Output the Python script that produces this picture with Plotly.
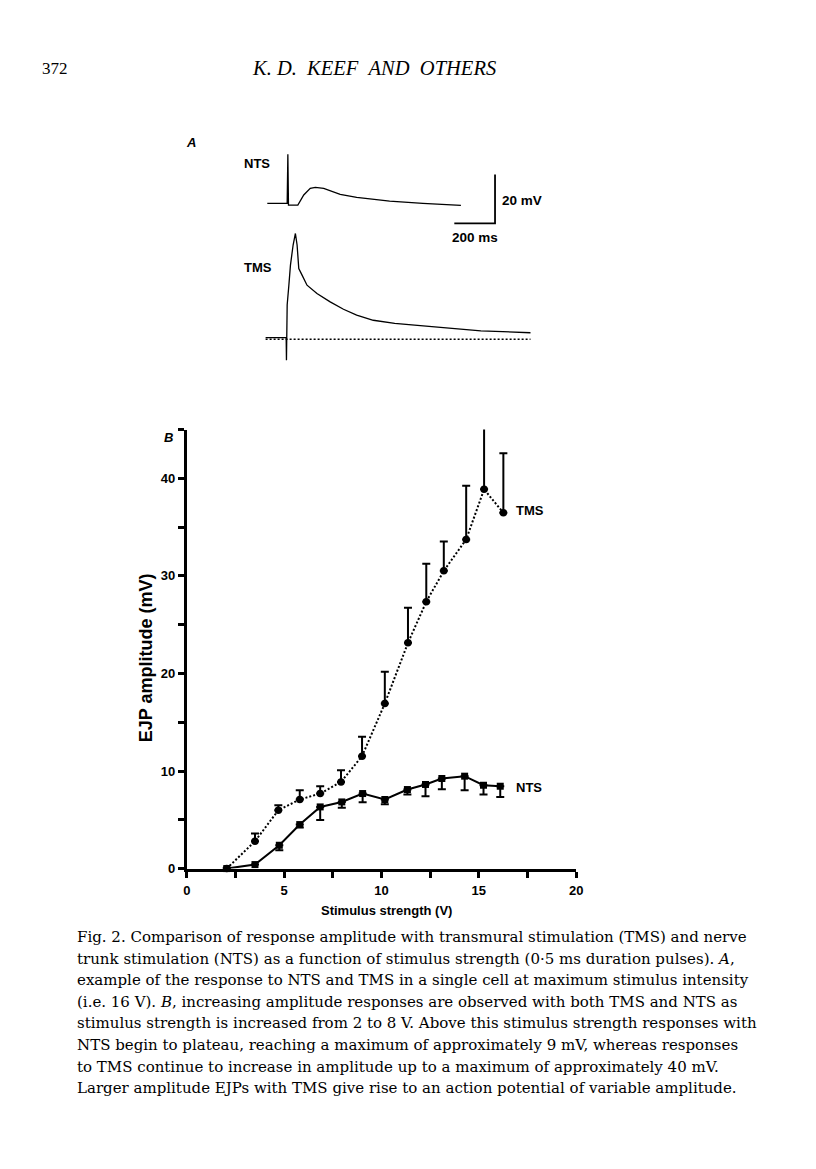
import plotly.graph_objects as go

# The page body keeps the browser's default 8 px margin, so the figure is made
# 16 px smaller than the window and every page position is shifted by 8 px.
# S compensates a small shrink seen in the captured picture.
PAGE_W, PAGE_H = 816, 1169
OFF = 8
S = 1.007
W, H = PAGE_W - 2 * OFF, PAGE_H - 2 * OFF


def px(x):
    return (x * S - OFF) / W


def py(y):
    return 1 - (y * S - OFF) / H


# ---------------- Panel B data (stimulus strength V, EJP amplitude mV) ----------------
tms_x = [2.05, 3.5, 4.7, 5.8, 6.85, 7.92, 9.0, 10.17, 11.36, 12.3, 13.2, 14.35, 15.27, 16.26]
tms_y = [0, 2.8, 5.98, 7.08, 7.69, 8.88, 11.52, 16.92, 23.14, 27.35, 30.52, 33.74, 38.87, 36.47]
tms_err_up = [0, 0.8, 0.5, 0.95, 0.75, 1.2, 2.0, 3.25, 3.6, 3.9, 3.0, 5.5, 7.6, 6.1]

nts_x = [2.05, 3.5, 4.75, 5.8, 6.85, 7.96, 9.03, 10.17, 11.33, 12.26, 13.1, 14.27, 15.24, 16.1]
nts_y = [0, 0.41, 2.39, 4.51, 6.32, 6.83, 7.69, 7.08, 8.1, 8.62, 9.23, 9.47, 8.54, 8.44]
nts_err_down = [0, 0, 0.5, 0.3, 1.35, 0.6, 0.9, 0.5, 0.5, 1.2, 1.1, 1.45, 0.95, 1.1]

x_tickvals = [0, 2.5, 5, 7.5, 10, 12.5, 15, 17.5, 20]
x_ticktext = ["0", "", "5", "", "10", "", "15", "", "20"]
y_tickvals = [0, 5, 10, 15, 20, 25, 30, 35, 40, 45]
y_ticktext = ["0", "", "10", "", "20", "", "30", "", "40", ""]

# ---------------- Panel A data (time ms, membrane potential mV) ----------------
nts_trace_t = [0, 97.6, 101, 104, 150, 179, 211, 236, 277, 358, 439, 601, 764, 927, 951]
nts_trace_v = [0, 0, 20.0, -0.7, -0.7, 3.4, 6.1, 6.5, 6.1, 3.7, 2.4, 0.9, 0, -0.7, -0.8]

tms_trace_t = [-8.3, 92.7, 94.1, 95.1, 97.6, 105.9, 113.7, 126.8, 138, 146.3, 154.6, 170.7,
               195, 243.9, 308.8, 374.1, 439, 520.5, 625.8, 723.4, 886.3, 1048.8, 1292.7]
tms_trace_v = [0, 0, -9.2, 10.3, 13.3, 21.4, 29.6, 37.8, 42.5, 37.8, 28.2, 25.5,
               21.4, 18.0, 14.6, 11.6, 9.2, 7.1, 5.8, 5.1, 3.8, 2.8, 2.0]
tms_rest_t = [-8.3, 1292.7]
tms_rest_v = [-0.6, -0.6]

scale_ms = 200
scale_mv = 20

caption_lines = [
    "Fig. 2. Comparison of response amplitude with transmural stimulation (TMS) and nerve",
    "trunk stimulation (NTS) as a function of stimulus strength (0·5 ms duration pulses). <i>A</i>,",
    "example of the response to NTS and TMS in a single cell at maximum stimulus intensity",
    "(i.e. 16 V). <i>B</i>, increasing amplitude responses are observed with both TMS and NTS as",
    "stimulus strength is increased from 2 to 8 V. Above this stimulus strength responses with",
    "NTS begin to plateau, reaching a maximum of approximately 9 mV, whereas responses",
    "to TMS continue to increase in amplitude up to a maximum of approximately 40 mV.",
    "Larger amplitude EJPs with TMS give rise to an action potential of variable amplitude.",
]

# ---------------- layout constants ----------------
TMS_OFFSET = -54.8          # vertical offset of the TMS record in panel A (mV)
SB_T, SB_V = 1118.5, -8.2   # corner of the scale bar (ms, mV)
SANS = "Liberation Sans"
SERIF = "DejaVu Serif"

# panel A axis ranges matching its page box (x 200..600 px, y 130..380 px)
A_X_RANGE = [-317.1, 1634.1]
A_Y_RANGE = [-72.1, 29.9]

fig = go.Figure()

# Panel B
fig.add_trace(go.Scatter(
    x=tms_x, y=tms_y, mode="lines+markers", cliponaxis=False,
    line=dict(color="black", width=2, dash="2px,2px"),
    marker=dict(symbol="circle", size=7.5, color="black"),
    error_y=dict(type="data", symmetric=False, array=tms_err_up,
                 arrayminus=[0] * len(tms_err_up), thickness=2, width=4, color="black"),
    xaxis="x", yaxis="y", showlegend=False, hoverinfo="skip"))
fig.add_trace(go.Scatter(
    x=nts_x, y=nts_y, mode="lines+markers", cliponaxis=False,
    line=dict(color="black", width=2),
    marker=dict(symbol="square", size=7, color="black"),
    error_y=dict(type="data", symmetric=False, array=[0] * len(nts_err_down),
                 arrayminus=nts_err_down, thickness=2, width=4, color="black"),
    xaxis="x", yaxis="y", showlegend=False, hoverinfo="skip"))

# Panel A
fig.add_trace(go.Scatter(
    x=nts_trace_t, y=nts_trace_v, mode="lines",
    line=dict(color="black", width=1.3), xaxis="x2", yaxis="y2", showlegend=False,
    hoverinfo="skip"))
fig.add_trace(go.Scatter(
    x=tms_trace_t, y=[v + TMS_OFFSET for v in tms_trace_v], mode="lines",
    line=dict(color="black", width=1.3), xaxis="x2", yaxis="y2", showlegend=False,
    hoverinfo="skip"))
fig.add_trace(go.Scatter(
    x=tms_rest_t, y=[v + TMS_OFFSET for v in tms_rest_v], mode="lines",
    line=dict(color="black", width=1.5, dash="2px,2px"), xaxis="x2", yaxis="y2",
    showlegend=False, hoverinfo="skip"))
fig.add_trace(go.Scatter(
    x=[SB_T - scale_ms, SB_T, SB_T], y=[SB_V, SB_V, SB_V + scale_mv], mode="lines",
    line=dict(color="black", width=1.8), xaxis="x2", yaxis="y2", showlegend=False,
    hoverinfo="skip"))

tick_font = dict(family=SANS, size=13, color="black", weight="bold")

fig.update_layout(
    width=W, height=H,
    margin=dict(l=0, r=0, t=0, b=0),
    paper_bgcolor="white", plot_bgcolor="white",
    font=dict(family=SANS, color="black"),
    xaxis=dict(
        domain=[px(184), px(576)], range=[0, 20], anchor="y",
        showline=True, linewidth=3, linecolor="black", mirror=False,
        ticks="outside", ticklen=6, tickwidth=3, tickcolor="black",
        tickvals=x_tickvals, ticktext=x_ticktext, tickfont=tick_font,
        ticklabelstandoff=2,
        showgrid=False, zeroline=False),
    yaxis=dict(
        domain=[py(868.5), py(429.5)], range=[0, 45], anchor="x",
        showline=True, linewidth=3, linecolor="black",
        ticks="outside", ticklen=6, tickwidth=3, tickcolor="black",
        tickvals=y_tickvals, ticktext=y_ticktext, tickfont=tick_font,
        showgrid=False, zeroline=False),
    xaxis2=dict(domain=[px(200), px(600)], range=A_X_RANGE, anchor="y2", visible=False),
    yaxis2=dict(domain=[py(380), py(130)], range=A_Y_RANGE, anchor="x2", visible=False),
)

ann = []


def add_text(text, x, y, size=13, family=SANS, weight="bold", xanchor="center",
             italic=False, angle=0):
    ann.append(dict(
        text=text, x=px(x), y=py(y), xref="paper", yref="paper",
        xanchor=xanchor, yanchor="middle", showarrow=False, textangle=angle,
        font=dict(family=family, size=size, color="black", weight=weight,
                  style="italic" if italic else "normal")))


# page header
add_text("372", 36, 68, size=17, family="Liberation Serif", weight="normal", xanchor="left")
add_text("K.\u00a0D.\u00a0\u00a0KEEF\u00a0\u00a0AND\u00a0\u00a0OTHERS", 372, 68, size=20.5,
         family="Liberation Serif", weight="normal", italic=True)

# panel A labels
add_text("A", 188, 142, size=13, italic=True)
add_text("NTS", 255, 163, size=13)
add_text("TMS", 256, 267, size=13)
add_text("20 mV", 499, 200, size=13.5, xanchor="left")
add_text("200 ms", 474, 237, size=13.5)

# panel B labels
add_text("B", 166, 437, size=13, italic=True)
add_text("TMS", 513, 510, size=13, xanchor="left")
add_text("NTS", 513, 787, size=13, xanchor="left")
add_text("Stimulus strength (V)", 385, 910, size=13)
add_text("EJP amplitude (mV)", 143, 658, size=18, angle=-90)

# caption
for i, line in enumerate(caption_lines):
    add_text(line, 71, 937 + i * 21.6, size=15, family=SERIF, weight="normal",
             xanchor="left")

fig.update_layout(annotations=ann)

fig.write_html("out.html", config={"displayModeBar": False, "staticPlot": True})
